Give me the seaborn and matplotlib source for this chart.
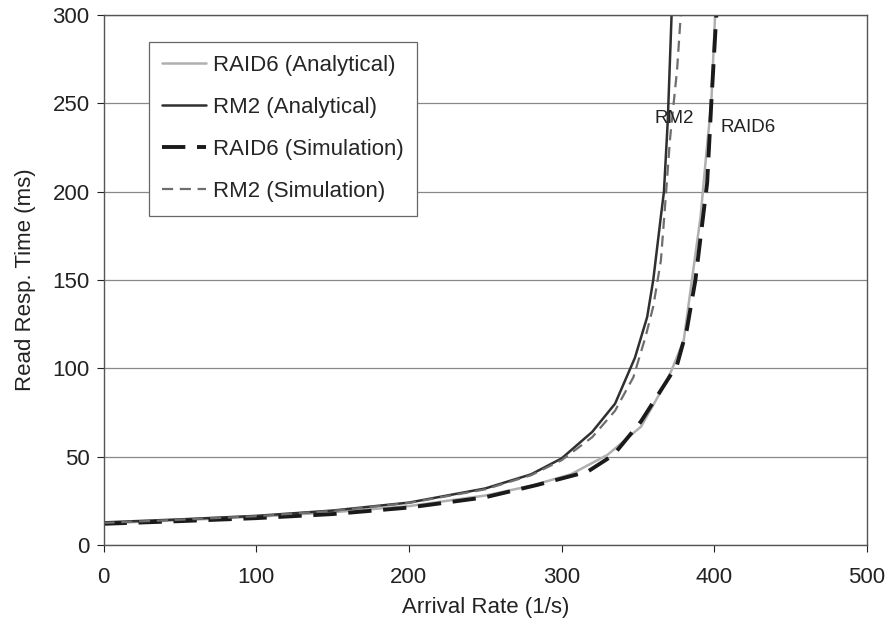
import matplotlib
matplotlib.use("Agg")
import matplotlib.pyplot as plt
import seaborn as sns
import numpy as np

# ---- data ----
raid6_ana_x = [0, 50, 100, 150, 200, 250, 280, 306, 330, 352, 369, 373, 380, 385, 391, 395, 398, 400.5]
raid6_ana_y = [12.3, 14.0, 16.0, 18.5, 22.0, 28.0, 33.5, 40.0, 51.0, 67.0, 93.0, 101.0, 116.0, 148.0, 186.0, 224.0, 250.0, 300.0]

rm2_ana_x = [0, 50, 100, 150, 200, 250, 280, 300, 320, 335, 348, 356, 360, 365, 367, 369.5, 372]
rm2_ana_y = [12.8, 14.5, 16.5, 19.5, 24.0, 32.0, 40.0, 49.0, 64.0, 80.0, 106.0, 129.0, 150.0, 186.0, 200.0, 240.0, 300.0]

raid6_sim_x = [0, 50, 100, 150, 200, 250, 284, 317, 334, 352, 369, 375.6, 382, 387.6, 395.3, 398, 401.3]
raid6_sim_y = [12.0, 13.5, 15.2, 17.5, 21.2, 27.0, 34.0, 41.5, 51.0, 70.0, 93.0, 102.0, 122.0, 150.0, 205.0, 250.0, 300.0]

rm2_sim_x = [0, 50, 100, 150, 200, 250, 280, 300, 320, 335, 347, 355, 360, 365, 368, 371, 375.6, 378]
rm2_sim_y = [12.5, 14.3, 16.3, 19.3, 23.8, 31.5, 39.5, 48.0, 61.0, 76.0, 95.0, 118.0, 135.0, 161.0, 195.0, 230.0, 269.0, 300.0]

series_labels = ["RAID6 (Analytical)", "RM2 (Analytical)", "RAID6 (Simulation)", "RM2 (Simulation)"]
x_ticks = [0, 100, 200, 300, 400, 500]
y_ticks = [0, 50, 100, 150, 200, 250, 300]

sns.set_theme(style="white")
plt.rcParams['font.family'] = ['Liberation Sans', 'DejaVu Sans']

fig = plt.figure(figsize=(8.87, 6.21), dpi=100)
ax = fig.add_axes([0.1167, 0.1224, 0.8608, 0.8534])

sns.lineplot(x=raid6_ana_x, y=raid6_ana_y, ax=ax, color="#b0b0b0", lw=1.8,
             label=series_labels[0], sort=False)
sns.lineplot(x=rm2_ana_x, y=rm2_ana_y, ax=ax, color="#303030", lw=1.8,
             label=series_labels[1], sort=False)
sns.lineplot(x=raid6_sim_x, y=raid6_sim_y, ax=ax, color="#1a1a1a", lw=2.8,
             label=series_labels[2], sort=False, dashes=False)
sns.lineplot(x=rm2_sim_x, y=rm2_sim_y, ax=ax, color="#6e6e6e", lw=1.6,
             label=series_labels[3], sort=False, dashes=False)

lines = ax.get_lines()
lines[2].set_dashes([6, 3])
lines[3].set_dashes([5, 3])

ax.set_xlim(0, 500)
ax.set_ylim(0, 300)
ax.set_xticks(x_ticks)
ax.set_yticks(y_ticks)
ax.tick_params(axis='both', labelsize=16, colors="#222222", direction='out',
               length=5, width=0.8, left=True, bottom=True, pad=5)
ax.tick_params(axis='x', pad=11)
ax.set_xlabel("Arrival Rate (1/s)", fontsize=16, color="#222222", labelpad=6)
ax.set_ylabel("Read Resp. Time (ms)", fontsize=16, color="#222222", labelpad=12)

ax.yaxis.grid(True, color="#888888", lw=0.9)
ax.xaxis.grid(False)
for s in ax.spines.values():
    s.set_color("#555555")
    s.set_linewidth(1.0)

ax.text(374, 241.5, "RM2", fontsize=13.5, ha='center', va='center', color="#222222")
ax.text(422, 236.5, "RAID6", fontsize=13.5, ha='center', va='center', color="#222222")

leg = ax.legend(loc='upper left', bbox_to_anchor=(0.059, 0.95), fontsize=16,
                frameon=True, fancybox=False, framealpha=1, edgecolor="#666666",
                handlelength=2.0, handletextpad=0.3, labelspacing=0.95,
                borderpad=0.6, borderaxespad=0)
leg.get_frame().set_linewidth(0.9)

fig.savefig("out.png", dpi=100)
